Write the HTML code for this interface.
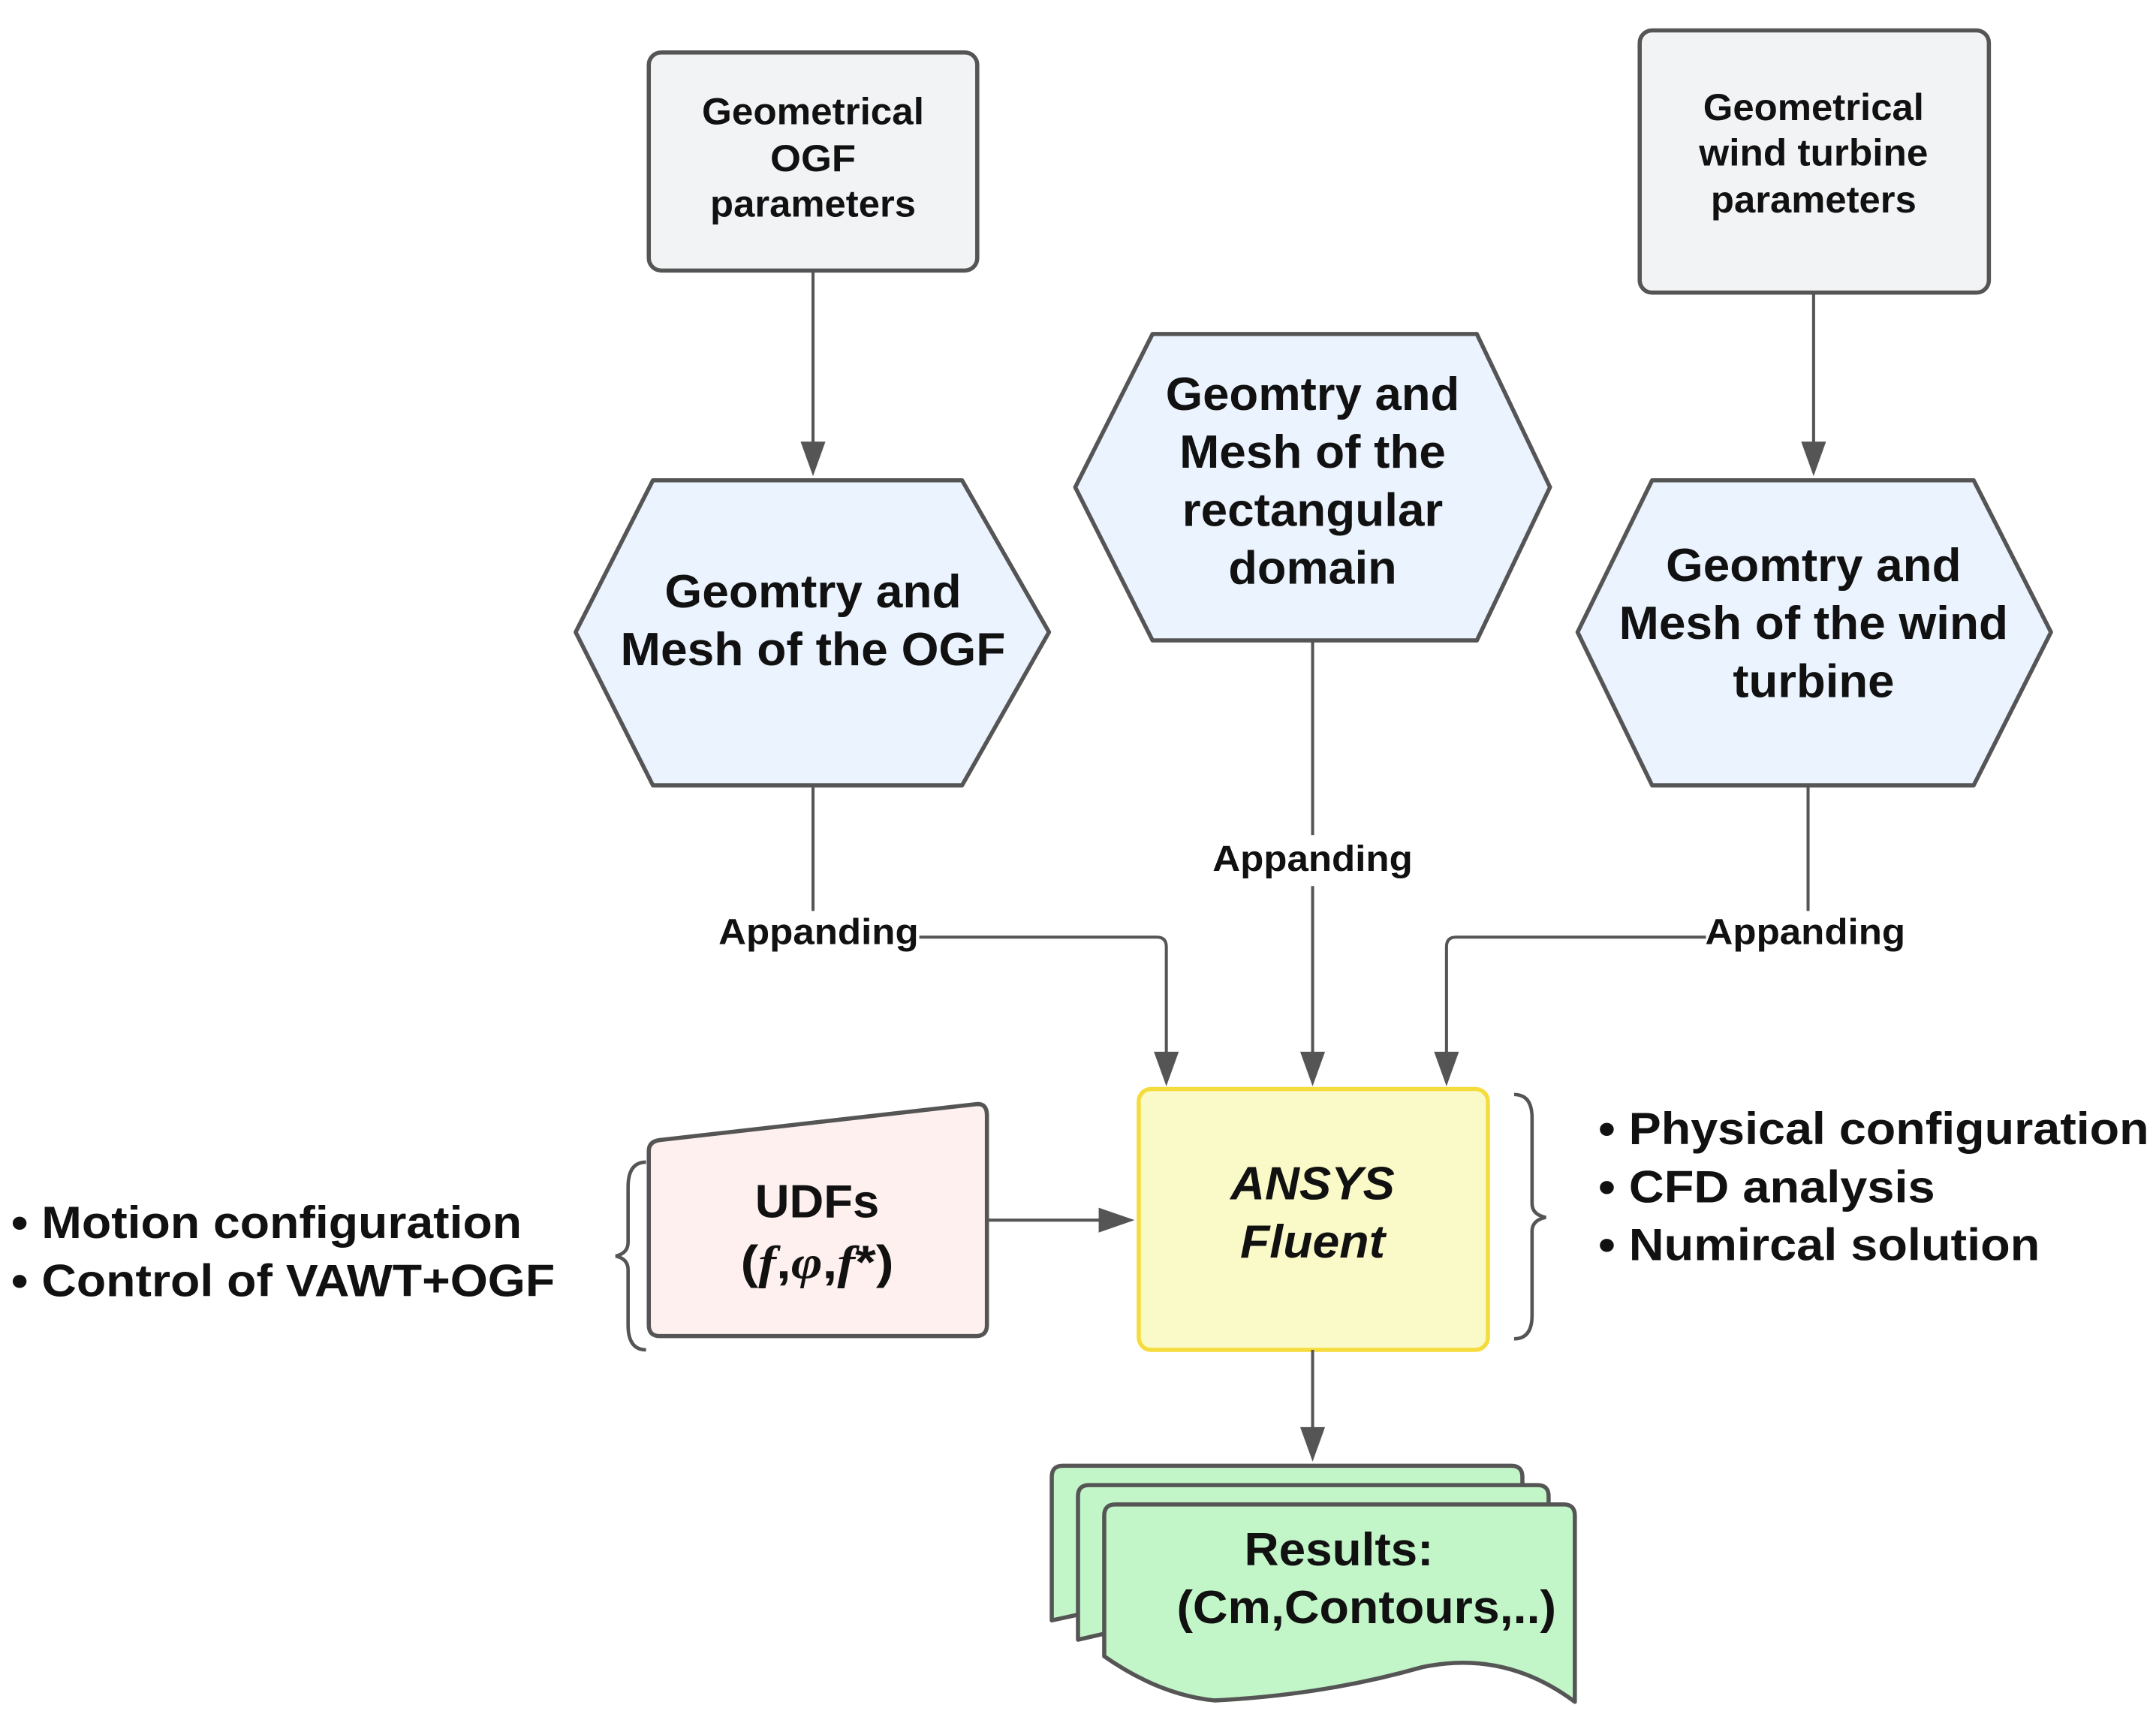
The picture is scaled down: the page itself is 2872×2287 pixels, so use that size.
<!DOCTYPE html>
<html><head><meta charset="utf-8"><style>
html,body{margin:0;padding:0;background:#fff;}
svg{display:block;}
text{font-family:"Liberation Sans",Arial,sans-serif;font-weight:bold;fill:#111;}
</style></head><body>
<svg width="2872" height="2287" viewBox="0 0 1562 1244" xmlns="http://www.w3.org/2000/svg">
<g stroke="#555" stroke-width="3" stroke-linejoin="round">
<rect x="470" y="38" width="238" height="158" rx="9" fill="#f2f3f5"/>
<rect x="1188" y="22" width="253" height="190" rx="9" fill="#f2f3f5"/>
<polygon points="473,348 697,348 760,458 697,569 473,569 417,458" fill="#eaf3fe"/>
<polygon points="835,242 1070,242 1123,353 1070,464 835,464 779,353" fill="#eaf3fe"/>
<polygon points="1197,348 1430,348 1486,458 1430,569 1197,569 1143,458" fill="#eaf3fe"/>
<path d="M478,826 L707,800 Q715,799 715,808 L715,960 Q715,968 707,968 L478,968 Q470,968 470,960 L470,834 Q470,827 478,826 Z" fill="#fdf0ee"/>
<path d="M762,1174 L762,1070 Q762,1062 770,1062 L1095,1062 Q1103,1062 1103,1070 L1103,1100 L762,1174 Z" fill="#c2f5c8"/>
<path d="M781,1188 L781,1084 Q781,1076 789,1076 L1114,1076 Q1122,1076 1122,1084 L1122,1110 L781,1188 Z" fill="#c2f5c8"/>
<path d="M800,1200 L800,1098 Q800,1090 808,1090 L1133,1090 Q1141,1090 1141,1098 L1141,1233 Q1090,1195 1030,1208 Q960,1228 880,1232 Q840,1228 800,1200 Z" fill="#c2f5c8"/>
</g>
<rect x="825" y="789" width="253" height="189" rx="9" fill="#fafac8" stroke="#f5dc3c" stroke-width="3"/>
<g stroke="#555" stroke-width="2.2" fill="none">
<line x1="589" y1="196" x2="589" y2="328"/>
<line x1="1314" y1="212" x2="1314" y2="328"/>
<line x1="589" y1="569" x2="589" y2="660"/>
<path d="M666,679 L838,679 Q845,679 845,686 L845,768"/>
<line x1="951" y1="464" x2="951" y2="605"/>
<line x1="951" y1="642" x2="951" y2="768"/>
<line x1="1310" y1="569" x2="1310" y2="660"/>
<path d="M1236,679 L1055,679 Q1048,679 1048,686 L1048,768"/>
<line x1="715" y1="884" x2="800" y2="884"/>
<line x1="951" y1="978" x2="951" y2="1040"/>
<path d="M468,842 Q455,842 455,860 L455,900 Q455,908 446,910 Q455,912 455,920 L455,960 Q455,978 468,978" stroke-width="2.5"/>
<path d="M1097,793 Q1110,793 1110,810 L1110,872 Q1110,880 1120,882 Q1110,884 1110,892 L1110,953 Q1110,970 1097,970" stroke-width="2.5"/>
</g>
<g fill="#555">
<polygon points="580,320 598,320 589,345"/>
<polygon points="1305,320 1323,320 1314,345"/>
<polygon points="836,762 854,762 845,787"/>
<polygon points="942,762 960,762 951,787"/>
<polygon points="1039,762 1057,762 1048,787"/>
<polygon points="796,875 796,893 822,884"/>
<polygon points="942,1034 960,1034 951,1059"/>
</g>
<g text-anchor="middle" font-size="27" lengthAdjust="spacingAndGlyphs">
<text x="589" y="90" textLength="161" lengthAdjust="spacingAndGlyphs">Geometrical</text>
<text x="589" y="124" textLength="62" lengthAdjust="spacingAndGlyphs">OGF</text>
<text x="589" y="157" textLength="149" lengthAdjust="spacingAndGlyphs">parameters</text>
<text x="1314" y="87" textLength="160" lengthAdjust="spacingAndGlyphs">Geometrical</text>
<text x="1314" y="120" textLength="166" lengthAdjust="spacingAndGlyphs">wind turbine</text>
<text x="1314" y="154" textLength="149" lengthAdjust="spacingAndGlyphs">parameters</text>
</g>
<g text-anchor="middle" font-size="34">
<text x="589" y="440" textLength="215" lengthAdjust="spacingAndGlyphs">Geomtry and</text>
<text x="589" y="482" textLength="279" lengthAdjust="spacingAndGlyphs">Mesh of the OGF</text>
<text x="951" y="297" textLength="213" lengthAdjust="spacingAndGlyphs">Geomtry and</text>
<text x="951" y="339" textLength="193" lengthAdjust="spacingAndGlyphs">Mesh of the</text>
<text x="951" y="381" textLength="189" lengthAdjust="spacingAndGlyphs">rectangular</text>
<text x="951" y="423" textLength="122" lengthAdjust="spacingAndGlyphs">domain</text>
<text x="1314" y="421" textLength="214" lengthAdjust="spacingAndGlyphs">Geomtry and</text>
<text x="1314" y="463" textLength="282" lengthAdjust="spacingAndGlyphs">Mesh of the wind</text>
<text x="1314" y="505" textLength="117" lengthAdjust="spacingAndGlyphs">turbine</text>
<text x="951" y="869" font-style="italic" textLength="119" lengthAdjust="spacingAndGlyphs">ANSYS</text>
<text x="951" y="911" font-style="italic" textLength="105" lengthAdjust="spacingAndGlyphs">Fluent</text>
<text x="592" y="882" textLength="90" lengthAdjust="spacingAndGlyphs">UDFs</text>
<text x="592" y="926" textLength="111" lengthAdjust="spacingAndGlyphs">(<tspan font-style="italic" font-family="Liberation Serif">f</tspan>,<tspan font-style="italic" font-family="Liberation Serif">φ</tspan>,<tspan font-style="italic" font-family="Liberation Serif">f</tspan>*)</text>
<text x="970" y="1134" textLength="137" lengthAdjust="spacingAndGlyphs">Results:</text>
<text x="990" y="1176" textLength="275" lengthAdjust="spacingAndGlyphs">(Cm,Contours,..)</text>
</g>
<g text-anchor="middle" font-size="26">
<text x="593" y="684" textLength="145" lengthAdjust="spacingAndGlyphs">Appanding</text>
<text x="951" y="631" textLength="145" lengthAdjust="spacingAndGlyphs">Appanding</text>
<text x="1308" y="684" textLength="145" lengthAdjust="spacingAndGlyphs">Appanding</text>
</g>
<g font-size="33">
<text x="8" y="897" textLength="370" lengthAdjust="spacingAndGlyphs">• Motion configuration</text>
<text x="8" y="939" textLength="394" lengthAdjust="spacingAndGlyphs">• Control of VAWT+OGF</text>
<text x="1158" y="829" textLength="399" lengthAdjust="spacingAndGlyphs">• Physical configuration</text>
<text x="1158" y="871" textLength="244" lengthAdjust="spacingAndGlyphs">• CFD analysis</text>
<text x="1158" y="913" textLength="320" lengthAdjust="spacingAndGlyphs">• Numircal solution</text>
</g>
</svg>
</body></html>
